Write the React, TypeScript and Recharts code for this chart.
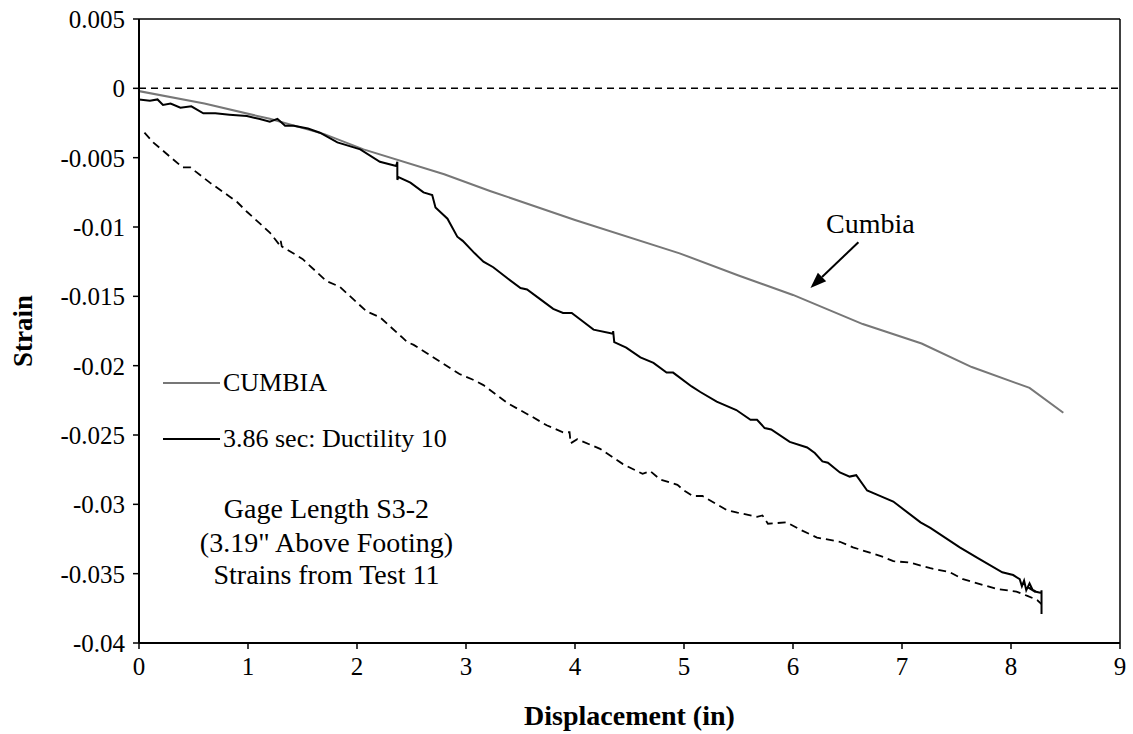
import React from "react";
import {
  Legend,
  Line,
  LineChart,
  ReferenceDot,
  ReferenceLine,
  XAxis,
  YAxis,
} from "recharts";

// displacement (in) / strain pairs
const cumbiaDisp = [0, 0.6, 1.2, 1.7, 2.06, 2.8, 3.22, 4.0, 4.96, 5.5, 6.0, 6.64, 7.18, 7.64, 8.17, 8.48];
const cumbiaStrain = [-0.0002, -0.0011, -0.0022, -0.0033, -0.0044, -0.0062, -0.0074, -0.0095, -0.0119, -0.0135, -0.0149, -0.017, -0.0184, -0.0201, -0.0216, -0.0234];

const ductDisp = [
  0, 0.1, 0.17, 0.22, 0.29, 0.38, 0.48, 0.59, 0.7, 0.83, 0.99, 1.1, 1.2, 1.27, 1.34, 1.42, 1.55, 1.66, 1.82, 2.03,
  2.21, 2.36, 2.37, 2.37, 2.38, 2.49, 2.61, 2.69, 2.72, 2.83, 2.92, 2.97, 3.08, 3.16, 3.25, 3.38, 3.5, 3.56, 3.68,
  3.8, 3.89, 3.97, 4.07, 4.17, 4.35, 4.35, 4.36, 4.47, 4.6, 4.72, 4.84, 4.9, 5.07, 5.15, 5.3, 5.48, 5.61, 5.67,
  5.74, 5.8, 5.97, 6.13, 6.2, 6.27, 6.32, 6.43, 6.52, 6.58, 6.68, 6.77, 6.92, 7.17, 7.26, 7.53, 7.7, 7.92, 8.02,
  8.08, 8.1, 8.12, 8.14, 8.17, 8.2, 8.16, 8.23, 8.28, 8.28, 8.28,
];
const ductStrain = [
  -0.0008, -0.0009, -0.0008, -0.0012, -0.0011, -0.0014, -0.0013, -0.0018, -0.0018, -0.0019, -0.002, -0.0022, -0.0024,
  -0.0022, -0.0027, -0.0027, -0.0029, -0.0032, -0.0039, -0.0044, -0.0053, -0.0056, -0.0053, -0.0066, -0.0064, -0.0068,
  -0.0075, -0.0077, -0.0086, -0.0094, -0.0107, -0.011, -0.0119, -0.0125, -0.0129, -0.0137, -0.0144, -0.0145, -0.0152,
  -0.0159, -0.0162, -0.0162, -0.0168, -0.0174, -0.0177, -0.0175, -0.0183, -0.0187, -0.0194, -0.0198, -0.0205, -0.0205,
  -0.0215, -0.0219, -0.0226, -0.0232, -0.0239, -0.0239, -0.0245, -0.0246, -0.0255, -0.0259, -0.0263, -0.0269, -0.027,
  -0.0277, -0.028, -0.0279, -0.029, -0.0293, -0.0298, -0.0313, -0.0317, -0.0331, -0.0339, -0.0349, -0.0351, -0.0354,
  -0.0359, -0.0355, -0.0362, -0.0357, -0.0362, -0.036, -0.0363, -0.0364, -0.0379, -0.0362,
];

// unlabeled dashed test curve
const dashDisp = [
  0.05, 0.13, 0.31, 0.4, 0.47, 0.65, 0.83, 0.9, 0.99, 1.2, 1.29, 1.3, 1.31, 1.5, 1.54, 1.72, 1.84, 2.09, 2.21, 2.42,
  2.46, 2.52, 2.94, 3.06, 3.16, 3.38, 3.61, 3.74, 3.89, 3.95, 3.96, 4.02, 4.23, 4.44, 4.62, 4.69, 4.78, 4.94, 5.0,
  5.08, 5.17, 5.39, 5.49, 5.67, 5.72, 5.77, 5.94, 6.06, 6.22, 6.43, 6.55, 6.83, 6.92, 7.07, 7.26, 7.44, 7.56, 7.87,
  8.05, 8.15, 8.24, 8.28,
];
const dashStrain = [
  -0.0032, -0.0039, -0.0051, -0.0057, -0.0057, -0.0068, -0.0078, -0.0082, -0.0089, -0.0104, -0.0113, -0.011, -0.0114,
  -0.0123, -0.0126, -0.0139, -0.0143, -0.0161, -0.0165, -0.018, -0.0183, -0.0185, -0.0206, -0.021, -0.0214, -0.0227,
  -0.0237, -0.0243, -0.0248, -0.0248, -0.0256, -0.0253, -0.026, -0.0271, -0.0278, -0.0276, -0.0282, -0.0286, -0.029,
  -0.0294, -0.0294, -0.0304, -0.0306, -0.0309, -0.0308, -0.0314, -0.0313, -0.0318, -0.0324, -0.0327, -0.0331, -0.0338,
  -0.0341, -0.0342, -0.0346, -0.0349, -0.0354, -0.0361, -0.0363, -0.0366, -0.0369, -0.0372,
];

const xTicks = [0, 1, 2, 3, 4, 5, 6, 7, 8, 9];
const yTicks = [0.005, 0, -0.005, -0.01, -0.015, -0.02, -0.025, -0.03, -0.035, -0.04];
const yTickLabels = ["0.005", "0", "-0.005", "-0.01", "-0.015", "-0.02", "-0.025", "-0.03", "-0.035", "-0.04"];

const legendItems = [
  { name: "CUMBIA", color: "#777777" },
  { name: "3.86 sec: Ductility 10", color: "#000000" },
];
const noteLines = ['Gage Length S3-2', '(3.19" Above Footing)', "Strains from Test 11"];
const noteY = [-0.0303, -0.0327, -0.0350];

const zip = (xs: number[], ys: number[]) => xs.map((x, i) => ({ x, y: ys[i] }));
const cumbia = zip(cumbiaDisp, cumbiaStrain);
const ductility = zip(ductDisp, ductStrain);
const dashed = zip(dashDisp, dashStrain);

const FONT = "Liberation Serif";

function Arrow(p: any) {
  const { x1, y1, x2, y2 } = p;
  const ang = Math.atan2(y2 - y1, x2 - x1);
  const L = 16;
  const W = 6;
  const bx = x2 - L * Math.cos(ang);
  const by = y2 - L * Math.sin(ang);
  const pts = `${x2},${y2} ${bx - W * Math.sin(ang)},${by + W * Math.cos(ang)} ${bx + W * Math.sin(ang)},${by - W * Math.cos(ang)}`;
  return (
    <g>
      <line x1={x1} y1={y1} x2={bx} y2={by} stroke="#000" strokeWidth={2} />
      <polygon points={pts} fill="#000" />
    </g>
  );
}

function LegendBox() {
  return (
    <div style={{ fontFamily: FONT, fontSize: 26, color: "#000" }}>
      {legendItems.map((it) => (
        <div key={it.name} style={{ display: "flex", alignItems: "center", height: 30, marginBottom: 26 }}>
          <svg width={57} height={4} style={{ marginRight: 3 }}>
            <line x1={0} y1={2} x2={57} y2={2} stroke={it.color} strokeWidth={2} />
          </svg>
          <span style={{ whiteSpace: "nowrap" }}>{it.name}</span>
        </div>
      ))}
    </div>
  );
}

export default function App() {
  return (
    <div style={{ position: "absolute", left: 0, top: 0, background: "#fff", fontFamily: FONT }}>
      <LineChart
        width={1133}
        height={734}
        margin={{ top: 19, right: 13, bottom: 0, left: 0 }}
        style={{ fontFamily: FONT }}
      >
        <XAxis
          dataKey="x"
          type="number"
          domain={[0, 9]}
          ticks={xTicks}
          allowDataOverflow
          height={91}
          tickSize={6}
          tickMargin={8}
          axisLine={{ stroke: "#000", strokeWidth: 2 }}
          tickLine={{ stroke: "#000", strokeWidth: 1.5 }}
          tick={{ fill: "#000", fontSize: 25, fontFamily: FONT }}
          label={{
            value: "Displacement (in)",
            position: "insideBottom",
            offset: 9,
            style: { fill: "#000", fontSize: 28, fontWeight: "bold", fontFamily: FONT },
          }}
        />
        <YAxis
          type="number"
          domain={[-0.04, 0.005]}
          ticks={yTicks}
          allowDataOverflow
          width={139}
          tickSize={6}
          tickMargin={8}
          tickFormatter={(v: number) => yTickLabels[yTicks.indexOf(v)] ?? String(v)}
          axisLine={{ stroke: "#000", strokeWidth: 2 }}
          tickLine={{ stroke: "#000", strokeWidth: 1.5 }}
          tick={{ fill: "#000", fontSize: 25, fontFamily: FONT }}
          label={{
            value: "Strain",
            angle: -90,
            position: "insideLeft",
            offset: 22,
            style: { fill: "#000", fontSize: 27, fontWeight: "bold", fontFamily: FONT, textAnchor: "middle" },
          }}
        />
        <ReferenceLine y={0.005} stroke="#000" strokeWidth={1.5} />
        <ReferenceLine x={9} stroke="#000" strokeWidth={1.5} />
        <ReferenceLine y={0} stroke="#000" strokeWidth={1.5} strokeDasharray="7 5" />
        <Line
          data={dashed}
          dataKey="y"
          name="dashed"
          stroke="#000"
          strokeWidth={1.8}
          strokeDasharray="8 5"
          dot={false}
          activeDot={false}
          legendType="none"
          isAnimationActive={false}
        />
        <Line
          data={cumbia}
          dataKey="y"
          name="CUMBIA"
          stroke="#777777"
          strokeWidth={2}
          dot={false}
          activeDot={false}
          isAnimationActive={false}
        />
        <Line
          data={ductility}
          dataKey="y"
          name="3.86 sec: Ductility 10"
          stroke="#000"
          strokeWidth={2}
          dot={false}
          activeDot={false}
          isAnimationActive={false}
        />
        <ReferenceLine
          segment={[
            { x: 6.6, y: -0.0111 },
            { x: 6.16, y: -0.0144 },
          ]}
          shape={Arrow}
        />
        <ReferenceDot
          x={6.71}
          y={-0.0097}
          r={0}
          fill="none"
          stroke="none"
          label={{ value: "Cumbia", position: "center", style: { fill: "#000", fontSize: 28, fontFamily: FONT } }}
        />
        {noteLines.map((t, i) => (
          <ReferenceDot
            key={t}
            x={1.72}
            y={noteY[i]}
            r={0}
            fill="none"
            stroke="none"
            label={{ value: t, position: "center", style: { fill: "#000", fontSize: 28, fontFamily: FONT } }}
          />
        ))}
        <Legend
          layout="vertical"
          align="center"
          verticalAlign="middle"
          content={<LegendBox />}
          wrapperStyle={{ position: "absolute", left: 163, top: 368, width: 320 }}
        />
      </LineChart>
    </div>
  );
}
